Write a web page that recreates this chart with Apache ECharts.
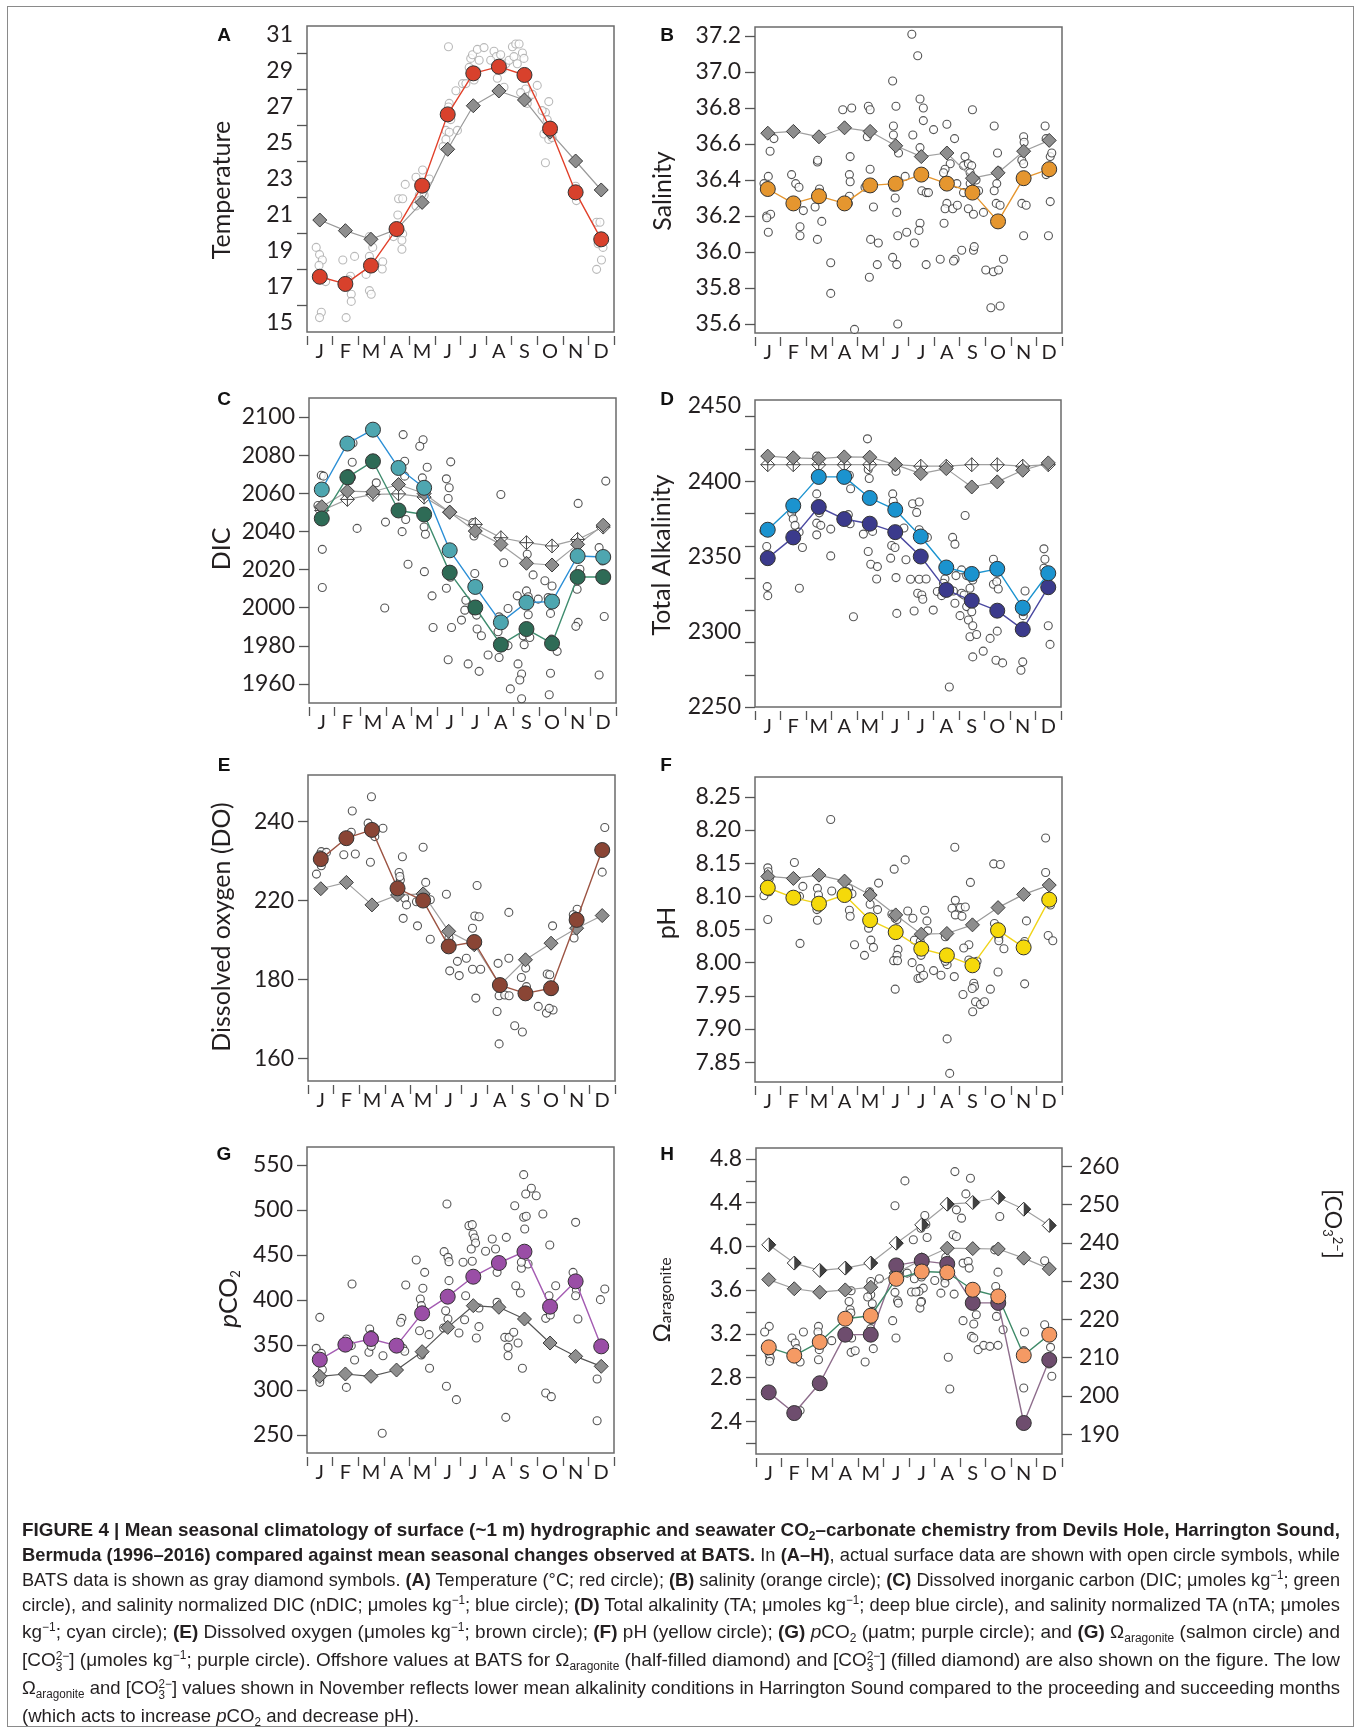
<!DOCTYPE html>
<html><head><meta charset="utf-8">
<script src="https://cdn.jsdelivr.net/npm/echarts@6/dist/echarts.min.js"></script>
<style>
html,body{margin:0;padding:0;background:#fff;}
#chart{position:absolute;left:0;top:0;width:1360px;height:1731px;}
#frame{position:absolute;left:7px;top:6px;width:1347px;height:1721px;border:1.5px solid #8a8a8a;box-sizing:border-box;pointer-events:none;}
.cap{position:absolute;left:22px;white-space:nowrap;font-family:"Liberation Sans Narrow","Liberation Sans",Arial,sans-serif;font-size:19px;color:#231f20;line-height:20px;transform-origin:0 50%;}
.cap sup{font-size:12px;vertical-align:7px;line-height:0;}
.cap sub{font-size:12px;vertical-align:-4px;line-height:0;}
.st{display:inline-block;font-size:12px;line-height:11px;vertical-align:-5px;text-align:left;}
</style></head><body>
<div id="chart"></div>
<div id="frame"></div>
<div id="caption"></div>
<script>
// ---------- categories / ticks ----------
const months = ['J','F','M','A','M','J','J','A','S','O','N','D'];
const monthTicks = [0,1,2,3,4,5,6,7,8,9,10,11,12];
const monthLabelPos = [0.5,1.5,2.5,3.5,4.5,5.5,6.5,7.5,8.5,9.5,10.5,11.5];

const tempLabels = [15,17,19,21,23,25,27,29,31];
const tempTicks = [16,18,20,22,24,26,28,30];
const salTicks = [35.6,35.8,36.0,36.2,36.4,36.6,36.8,37.0,37.2];
const dicTicks = [1960,1980,2000,2020,2040,2060,2080,2100];
const taLabels = [2250,2300,2350,2400,2450];
const taTicks = [2250,2271.4,2292.9,2314.3,2335.7,2357.1,2378.6,2400,2421.4,2442.9];
const doTicks = [180,200,220,240];
const doTickText = ['160','180','220','240'];
const phTicks = [7.85,7.90,7.95,8.00,8.05,8.10,8.15,8.20,8.25];
const pco2Ticks = [250,300,350,400,450,500,550];
const omegaLabels = [2.4,2.8,3.2,3.6,4.0,4.4,4.8];
const omegaTicks = [2.2,2.4,2.6,2.8,3.0,3.2,3.4,3.6,3.8,4.0,4.2,4.4,4.6,4.8];
const co3Ticks = [190,200,210,220,230,240,250,260];

// ---------- A: temperature ----------
const tempMean = [17.57,17.17,18.19,20.22,22.63,26.59,28.87,29.24,28.78,25.80,22.26,19.65];
const tempBats = [20.72,20.13,19.65,20.2,21.7,24.65,27.07,27.89,27.39,25.6,24.0,22.39];
const tempRaw = [[0.36,19.2],[0.49,18.8],[0.6,18.5],[0.47,18.2],[0.73,17.3],[0.56,15.6],[0.49,15.3],
[1.4,18.5],[1.86,18.7],[1.7,17.6],[1.73,16.6],[1.73,16.2],[1.53,15.3],[1.62,17.4],
[2.44,19.8],[2.57,19.2],[2.44,18.7],[2.96,18.4],[2.94,18.0],[2.31,17.7],[2.44,16.8],[2.51,16.6],
[3.84,22.7],[3.58,21.9],[3.74,21.9],[3.55,21.0],[3.74,19.95],[3.71,19.6],[3.71,19.1],[3.38,19.8],
[4.26,23.1],[4.52,23.5],[4.78,23.0],[4.39,22.1],[4.26,21.5],[4.58,22.1],[4.39,21.8],
[5.53,30.35],[5.56,27.2],[5.53,27.0],[5.43,25.7],[5.56,25.6],[5.43,25.2],[5.32,24.8],[5.88,25.7],[5.82,27.9],[5.62,26.3],
[6.08,28.3],[6.21,28.3],[6.34,29.2],[6.4,29.7],[6.47,29.9],[6.66,30.2],[6.92,30.3],[6.53,28.5],[6.62,29.0],[6.73,29.6],
[7.31,30.1],[7.4,29.8],[7.57,29.9],[7.77,29.4],[7.9,29.6],[7.44,28.6],[7.7,28.1],[7.18,29.6],[7.64,29.1],
[8.03,30.35],[8.16,30.5],[8.29,30.5],[8.42,30.0],[8.09,29.8],[8.22,29.4],[8.48,29.7],[8.55,28.0],[8.68,27.6],[8.61,27.2],[8.81,27.7],[9.0,28.2],[8.35,27.8],
[9.45,27.3],[9.32,26.7],[9.39,26.3],[9.26,25.5],[9.45,25.2],[9.58,25.3],[9.32,23.9],[9.19,26.8],
[10.5,22.6],[10.53,21.8],[10.47,22.4],
[11.32,20.6],[11.45,20.6],[11.57,19.2],[11.51,18.5],[11.32,17.98],[11.38,19.4]];

// ---------- B: salinity ----------
const salMean = [36.35,36.27,36.31,36.27,36.37,36.38,36.43,36.38,36.33,36.17,36.41,36.46];
const salBats = [36.66,36.67,36.64,36.69,36.67,36.59,36.53,36.55,36.41,36.44,36.56,36.62];
const salRaw = [[0.74,36.63],[0.59,36.56],[0.52,36.42],[0.35,36.38],[0.46,36.2],[0.61,36.21],[0.52,36.11],[0.46,36.19],
[1.43,36.43],[1.59,36.38],[1.72,36.36],[1.76,36.14],[1.76,36.09],[1.89,36.23],[1.5,36.28],
[2.44,36.5],[2.45,36.51],[2.52,36.35],[2.35,36.25],[2.61,36.17],[2.44,36.07],[2.96,35.94],[2.96,35.77],
[3.43,36.79],[3.78,36.8],[3.72,36.53],[3.69,36.43],[3.72,36.39],[3.69,36.31],[3.65,36.27],[3.89,35.57],
[4.43,36.81],[4.5,36.79],[4.39,36.64],[4.5,36.46],[4.3,36.36],[4.63,36.25],[4.52,36.07],[4.82,36.05],[4.78,35.93],[4.47,35.86],
[5.38,36.95],[5.51,36.81],[5.41,36.7],[5.41,36.65],[5.61,36.55],[5.41,36.36],[5.48,36.3],[5.54,36.22],[5.87,36.42],[5.58,36.09],[5.38,35.97],[5.54,35.93],[5.58,35.6],
[6.13,37.21],[6.36,37.09],[6.45,36.85],[6.58,36.8],[6.58,36.73],[6.17,36.65],[6.45,36.58],[6.52,36.34],[6.69,36.33],[6.78,36.33],[6.45,36.16],[6.41,36.12],[5.93,36.11],[6.23,36.05],[6.69,35.93],[6.98,36.68],
[7.5,36.71],[7.8,36.63],[7.63,36.49],[7.43,36.46],[7.37,36.44],[7.5,36.27],[7.43,36.24],[7.73,36.24],[7.91,36.26],[7.39,36.16],[7.82,35.96],[7.24,35.96],[7.76,35.95],[7.89,36.38],
[8.5,36.79],[8.21,36.53],[8.15,36.48],[8.34,36.49],[8.47,36.48],[8.41,36.44],[8.51,36.4],[8.41,36.38],[8.64,36.4],[8.74,36.34],[8.34,36.24],[8.54,36.21],[8.93,36.22],[8.08,36.01],[8.54,36.01],[8.57,36.03],[8.15,36.33],
[9.35,36.7],[9.48,36.55],[9.52,36.45],[9.45,36.38],[9.35,36.34],[9.43,36.27],[9.58,36.26],[9.02,35.9],[9.32,35.89],[9.52,35.9],[9.71,35.96],[9.22,35.69],[9.58,35.7],
[10.5,36.64],[10.52,36.61],[10.43,36.51],[10.5,36.49],[10.43,36.27],[10.6,36.26],[10.5,36.09],
[11.34,36.7],[11.38,36.63],[11.54,36.53],[11.6,36.55],[11.38,36.43],[11.54,36.28],[11.47,36.09]];

// ---------- C: DIC ----------
const dicMean = [2046.8,2068.4,2076.8,2051.0,2048.9,2018.4,2000.1,1980.6,1988.8,1981.3,2016.1,2016.1];
const ndicMean = [2062.0,2086.1,2093.4,2073.3,2062.9,2030.1,2010.9,1992.3,2002.7,2003.2,2027.1,2026.6];
const dicBats = [2053,2061.1,2060.8,2064.6,2059.9,2050.1,2040.2,2033.2,2023.3,2022.4,2033.2,2043.3];
const ndicBats = [2051,2056.8,2059.4,2059.7,2058.0,2050.1,2043.7,2036.7,2034.1,2032.4,2035.8,2042.3];
const dicRaw = [[0.35,2053.6],[0.52,2051],[0.48,2069.5],[0.57,2069],[0.52,2030.6],[0.52,2010.6],
[1.72,2086.4],[1.69,2076.3],[1.53,2070.4],[1.66,2068.4],[1.59,2066.7],[1.88,2041.6],[1.46,2060.2],
[2.44,2075.4],[2.63,2065.5],[2.99,2044.9],[2.96,1999.8],[2.48,2060],
[3.68,2090.8],[3.74,2076.8],[3.74,2069],[3.78,2046.3],[3.64,2039.9],[3.87,2022.8],
[4.46,2088.1],[4.33,2084.7],[4.43,2068.1],[4.62,2073.7],[4.5,2042.3],[4.55,2038.5],[4.51,2018.9],[4.81,2006.2],[4.85,1989.6],
[5.37,2067.6],[5.48,2062.9],[5.44,2057.3],[5.54,2076.5],[5.37,2010.2],[5.57,1989.6],[5.44,1972.7],[5.53,2016],
[6.41,2044.6],[6.45,2037.6],[6.48,2017.9],[6.13,2003.9],[6.09,1998.7],[5.96,1993.5],[6.55,1996.1],[6.57,1988.8],[6.74,1985.3],[6.22,1970.5],[6.65,1966.6],[6.41,1998.5],
[7.5,2059.4],[7.61,2023.6],[7.78,1999.6],[7.43,1995.2],[7.39,1987.4],[7.78,1980.1],[7.43,1973.9],[7.87,1957.4],[7.0,1975.2],
[8.14,2006.2],[8.53,2028],[8.76,2017.2],[8.5,2008.8],[8.57,2005.7],[8.57,1996.3],[8.37,1985.3],[8.63,1984.4],[8.41,1980.6],[8.17,1970.5],[8.31,1965.2],[8.24,1962.1],[8.31,1952.2],[8.96,2004.5],
[9.22,2014.1],[9.5,2011.4],[9.44,1997],[9.48,1983.5],[9.7,1977.1],[9.44,1965.6],[9.39,1954.3],[9.35,2005.3],
[10.52,2054.7],[10.5,2034.1],[10.59,2020.2],[10.48,2009.7],[10.52,1992.3],[10.43,1990.2],
[11.6,2066.4],[11.34,2031.5],[11.47,2024.5],[11.54,1995.4],[11.34,1964.7],[11.43,2026]];

// ---------- D: total alkalinity ----------
const taMean = [2348.9,2362.7,2382.9,2374.9,2371.8,2366.2,2350.0,2327.8,2320.7,2314.0,2301.6,2329.6];
const ntaMean = [2367.8,2383.8,2402.9,2402.9,2388.9,2381.1,2363.3,2342.7,2338.4,2341.8,2316.0,2338.9];
const taBats = [2416.7,2415.6,2415.0,2416.2,2416.0,2411.1,2405.1,2408.4,2396.2,2399.6,2407.3,2412.2];
const ntaBats = [2411,2411,2411,2411,2411,2411,2410,2410,2411,2411,2410,2411];
const taRaw = [[0.35,2367],[0.46,2356.7],[0.48,2330],[0.5,2324],
[1.44,2378.9],[1.5,2375],[1.57,2370.7],[1.73,2366.2],[1.86,2356],[1.74,2328.9],
[2.42,2416.7],[2.42,2391.6],[2.42,2372.2],[2.58,2370.7],[2.42,2364.4],[2.97,2368.2],[2.97,2350.4],[2.52,2379],
[3.7,2404],[3.75,2395],[3.66,2377.8],[3.73,2371.8],[3.86,2310],
[4.41,2428.2],[4.44,2407.8],[4.48,2401.8],[4.25,2364.9],[4.61,2366.7],[4.44,2353.3],[4.54,2344.9],[4.8,2343.3],[4.77,2335.1],
[5.4,2391.6],[5.42,2386.7],[5.53,2406.7],[5.36,2357.3],[5.49,2356],[5.84,2368.9],[5.32,2348.9],[5.92,2347.8],[5.53,2336],[5.56,2312.2],[5.4,2382.7],
[6.18,2385.1],[6.44,2386.2],[6.34,2379.3],[6.44,2367.8],[6.76,2362.7],[6.1,2334.9],[6.44,2334.9],[6.71,2335.1],[6.38,2325.6],[6.54,2324.4],[6.58,2321.6],[6.24,2313.8],[6.99,2314.4],
[7.75,2362.7],[7.84,2358.2],[7.45,2335.1],[7.39,2332.2],[7.15,2326.7],[7.32,2324],[7.78,2327.1],[7.84,2318.9],[8.1,2325.6],[7.62,2263.3],[7.88,2337.3],
[8.24,2377.3],[8.1,2341.1],[8.3,2337.3],[8.54,2334.4],[8.2,2324.4],[8.3,2316.7],[8.5,2313.3],[8.04,2310.7],[8.37,2307.8],[8.54,2304],[8.43,2296.7],[8.69,2298.2],[8.54,2283.3],[8.95,2287.1],[9.22,2295.6],[8.43,2328.9],
[9.35,2348.2],[9.35,2331.6],[9.48,2333.3],[9.54,2328.4],[9.5,2300.4],[9.45,2281.1],[9.71,2279.3],
[10.59,2327.1],[10.52,2310.7],[10.5,2280],[10.43,2274.4],[10.52,2313.3],
[11.33,2355.1],[11.37,2348.2],[11.33,2342.2],[11.5,2304],[11.57,2291.6],[11.44,2336.7]];

// ---------- E: dissolved oxygen ----------
const doMean = [230.5,235.8,237.9,223.1,220.0,208.4,209.5,198.6,196.5,197.8,215.1,232.8];
const doBats = [223.0,224.6,218.9,221.4,221.7,212.2,208.8,198.6,205.0,209.2,213.0,216.2];
const doRaw = [[0.33,226.7],[0.52,232.4],[0.46,231.6],[0.72,232.2],[0.52,228.8],
[1.73,242.7],[1.69,237.3],[1.4,231.6],[1.85,231.8],
[2.48,246.3],[2.35,239.6],[2.61,236.2],[2.93,238.3],[2.44,229.7],
[3.56,227.1],[3.61,225.2],[3.69,231.1],[3.78,220.6],[3.85,218.9],[3.72,215.5],[3.59,226.1],
[4.5,233.5],[4.6,224.6],[4.78,220.2],[4.24,219.7],[4.28,213.6],[4.78,210.2],
[5.41,221.6],[5.51,210.6],[5.54,202.2],[5.84,204.6],[5.91,201.0],[6.19,205.4],
[6.43,213],[6.61,223.8],[6.52,216.1],[6.69,215.9],[6.43,202.6],[6.75,202.6],[6.56,195.3],
[7.43,204.1],[7.85,205.4],[7.85,217],[7.47,195.9],[7.69,196.1],[7.86,195.9],[7.39,191.9],[7.47,183.7],
[8.34,200.5],[8.51,202.9],[8.54,198.2],[8.08,188.3],[8.38,186.7],
[9.56,213.6],[9.35,201.4],[9.45,201.2],[9.52,197],[9.58,192.3],[9.0,193.2],[9.32,191.5],[9.43,192.7],
[10.52,217.8],[10.37,216.4],[10.4,210.5],[10.47,216],
[11.6,238.5],[11.5,227.2]];

// ---------- F: pH ----------
const phMean = [8.113,8.098,8.089,8.102,8.064,8.046,8.021,8.011,7.996,8.049,8.023,8.095];
const phBats = [8.130,8.127,8.132,8.123,8.102,8.072,8.043,8.044,8.057,8.083,8.103,8.117];
const phRaw = [[0.5,8.143],[0.52,8.137],[0.46,8.13],[0.56,8.127],[0.35,8.101],[0.55,8.107],[0.5,8.065],
[1.54,8.151],[1.87,8.115],[1.74,8.1],[1.76,8.029],
[2.44,8.112],[2.48,8.102],[2.48,8.082],[2.44,8.064],[2.96,8.216],[3.0,8.108],[2.42,8.08],
[3.66,8.112],[3.79,8.104],[3.69,8.079],[3.72,8.07],[3.89,8.027],[3.59,8.107],
[4.48,8.107],[4.5,8.088],[4.83,8.12],[4.79,8.08],[4.44,8.052],[4.53,8.034],[4.63,8.023],[4.28,8.011],
[5.44,8.141],[5.87,8.155],[5.35,8.073],[5.48,8.067],[5.55,8.065],[5.97,8.078],[5.59,8.02],[5.55,8.011],[5.42,8.003],[5.57,8.003],[5.48,7.96],[6.17,8.067],[6.23,8.034],[6.14,8.0],
[6.63,8.079],[6.72,8.063],[6.75,8.048],[6.46,8.032],[6.49,8.011],[6.46,7.991],[6.37,7.976],[6.46,7.977],[6.59,7.981],[6.98,7.988],
[7.44,8.039],[7.83,8.094],[7.7,8.082],[8.03,8.083],[7.83,8.072],[8.09,8.07],[8.22,8.084],[7.81,8.174],[7.38,8.007],[7.51,7.997],[7.27,7.981],[7.79,7.979],[7.51,7.885],[7.61,7.833],[7.44,8.002],
[8.42,8.121],[8.36,8.027],[8.16,8.022],[8.36,8.004],[8.68,8.002],[8.55,7.969],[8.58,7.964],[8.49,7.961],[8.62,7.941],[8.81,7.937],[8.97,7.941],[8.51,7.926],[8.13,7.952],[9.2,7.96],
[9.33,8.149],[9.59,8.148],[9.36,8.059],[9.53,8.038],[9.53,8.033],[9.73,8.021],[9.5,7.986],
[10.54,8.032],[10.51,8.024],[10.61,8.063],[10.54,7.968],
[11.36,8.188],[11.36,8.136],[11.55,8.087],[11.46,8.041],[11.64,8.033]];

// ---------- G: pCO2 ----------
const pco2Mean = [333.7,350.4,356.7,349.3,385.2,403.7,425.9,441.1,453.7,392.6,420.7,348.5];
const pco2Bats = [315.2,317.8,315.2,322.2,342.6,369.6,393.7,391.9,378.9,352.2,337.4,326.3];
const pco2Raw = [[0.5,380.7],[0.36,346.3],[0.56,340.7],[0.6,322.6],[0.5,311.1],[0.5,308.5],[0.47,315.9],
[1.76,417.8],[1.54,356.7],[1.86,333.3],[1.54,302.9],[1.73,349.3],
[2.45,367.8],[2.51,361.5],[2.62,358.5],[2.42,341.9],[2.97,338.1],[2.94,251.9],[2.51,348.5],
[3.86,416.7],[3.71,379.6],[3.66,375.2],[3.75,346.3],[3.82,343],
[4.27,444.4],[4.6,430.7],[4.53,413],[4.43,401.1],[4.47,393.7],[4.4,383.3],[4.4,365.9],[4.77,361.5],[4.79,324.1],[4.47,338.9],
[5.36,453.7],[5.47,506.7],[5.51,447.4],[5.55,442.6],[5.55,421.5],[5.42,388.1],[5.51,378.9],[5.34,368.9],[5.45,304.1],[5.84,289.3],[5.94,363.3],[6.1,441.9],[6.2,404.8],
[6.33,482.6],[6.46,483.7],[6.49,473.3],[6.55,468.9],[6.59,463.3],[6.42,456.7],[6.46,443],[6.72,391.1],[6.72,370.4],[6.62,357.8],[6.16,378],
[6.98,454.1],[7.24,467.8],[7.37,456.7],[7.43,430.7],[7.79,469.6],[7.43,397.4],[7.73,358.5],[7.9,358.5],[7.86,347.4],[7.86,338.1],[7.77,269.6],
[8.12,504.8],[8.47,539.3],[8.77,524.1],[8.55,517.8],[8.96,515.9],[8.47,491.9],[8.57,493],[8.51,478.9],[8.38,435.2],[8.64,440],[8.16,415.9],[8.34,407.8],[8.08,364.1],[8.25,352.2],[8.42,324.1],[8.38,441.9],
[9.22,495.6],[9.49,461.1],[9.46,404.8],[9.72,415.9],[9.33,379.6],[9.51,383.3],[9.33,296.7],[9.55,292.6],
[10.4,430.7],[10.5,486.3],[10.53,411.5],[10.5,404.8],[10.59,378.9],[10.42,419],
[11.64,412.2],[11.47,400.4],[11.34,312.2],[11.34,265.9]];

// ---------- H: Omega aragonite / CO3 ----------
const omegaMean = [3.076,3.0,3.125,3.338,3.365,3.703,3.770,3.761,3.603,3.542,3.003,3.192];
const co3Mean = [200.9,195.5,203.3,216.0,216.0,234.1,235.3,234.5,224.3,224.3,192.9,209.4];
const omegaBats = [4.014,3.847,3.780,3.801,3.847,4.029,4.197,4.386,4.401,4.447,4.340,4.191];
const co3Bats = [230.4,228.0,227.1,227.7,228.4,232.1,235.6,238.6,238.5,238.4,236.0,233.2];
const omegaRaw = [[0.52,3.268],[0.34,3.216],[0.52,3.009],[0.56,2.978],[0.53,2.948],[0.5,3.045],
[1.41,3.161],[1.54,3.116],[1.6,3.064],[1.6,3.003],[1.73,2.942],[1.86,3.216],[1.73,2.497],
[2.45,3.268],[2.43,3.216],[2.45,3.137],[2.48,3.055],[2.45,2.963],[2.97,3.137],
[3.73,3.594],[3.65,3.496],[3.69,3.42],[3.72,3.39],[3.75,3.161],[3.73,3.03],[3.89,3.045],
[4.5,3.679],[4.5,3.557],[4.38,3.536],[4.56,3.475],[4.56,3.405],[4.54,3.329],[4.5,3.247],[4.6,3.064],[4.28,2.942],[4.84,3.703],
[5.45,4.371],[5.84,4.599],[5.51,3.801],[5.62,3.78],[5.93,3.755],[5.45,3.579],[5.55,3.502],[5.58,3.481],[5.36,3.32],[5.49,3.161],[6.17,4.06],[6.21,3.703],[6.1,3.582],
[6.62,4.282],[6.66,4.203],[6.71,4.081],[6.47,4.166],[6.49,3.719],[6.56,3.618],[6.39,3.588],[6.49,3.496],[6.43,3.435],[6.27,3.582],[6.47,3.49],[7.01,3.688],[7.25,3.572],
[7.44,3.898],[7.41,3.709],[7.41,3.664],[7.77,3.563],[7.8,4.684],[7.86,4.334],[8.06,4.258],[7.73,4.106],[7.86,4.09],[7.54,2.985],[7.6,2.695],[7.44,3.853],
[8.41,4.623],[8.23,4.48],[8.12,3.847],[8.32,3.862],[8.36,3.801],[8.51,3.481],[8.12,3.32],[8.54,3.289],[8.64,3.374],[8.45,3.176],[8.54,3.161],[8.71,3.055],[8.93,3.094],[9.17,3.085],[8.47,3.466],
[9.49,3.094],[9.36,3.968],[9.49,3.764],[9.56,4.273],[9.4,3.633],[9.43,3.359],[9.69,3.237],
[10.53,3.216],[10.5,3.046],[10.5,2.704],
[11.32,3.283],[11.55,3.076],[11.49,2.924],[11.6,2.811],[11.32,3.868]];

// ---------- build chart ----------
const FONT = 'Lato, "Noto Sans", sans-serif';
const TXT = '#231f20';
const grids = [], xAxes = [], yAxes = [], series = [], graphics = [];
const atMonth = arr => arr.map((v, i) => [i + 0.5, v]);
const CROSS = 'path://M10,0L20,10L10,20L0,10Z M10,0L10,20 M0,10L20,10';
const HALF = 'path://M0,0L10,10L0,20Z';

function yAxis(gi, y, pos) {
  return {
    gridIndex: gi, type: 'value', position: pos, min: y.min, max: y.max,
    axisLine: { show: false },
    axisTick: { show: true, customValues: y.ticks, length: 10, lineStyle: { color: '#555', width: 1.3 } },
    axisLabel: { customValues: y.labels, formatter: y.fmt, fontFamily: FONT, fontSize: 23, color: TXT, margin: pos === 'right' ? 17 : 14 },
    splitLine: { show: false }
  };
}

function addPanel(p) {
  const gi = grids.length;
  grids.push({ left: p.box[0], top: p.box[1], width: p.box[2], height: p.box[3], show: true,
    borderColor: '#6b6b6b', borderWidth: 1.5, backgroundColor: '#fff' });
  xAxes.push({
    gridIndex: gi, type: 'value', min: 0, max: 12, offset: 4,
    axisLine: { show: false },
    axisTick: { show: true, customValues: monthTicks, length: 9, lineStyle: { color: '#555', width: 1.3 } },
    axisLabel: { customValues: monthLabelPos, formatter: v => months[Math.floor(v)], fontFamily: FONT, fontSize: 20, color: TXT, margin: 6 },
    splitLine: { show: false }
  });
  const yi = yAxes.length;
  yAxes.push(yAxis(gi, p.y, 'left'));
  let yi2 = yi;
  if (p.y2) { yi2 = yAxes.length; yAxes.push(yAxis(gi, p.y2, 'right')); }
  series.push({ type: 'scatter', xAxisIndex: gi, yAxisIndex: yi, data: p.raw, symbol: 'circle', symbolSize: 8,
    itemStyle: { color: '#fff', borderColor: p.rawColor || '#2a2a2a', borderWidth: 1.1 }, z: 2, silent: true });
  (p.extra || []).forEach(s => series.push(Object.assign({ xAxisIndex: gi, yAxisIndex: s.right ? yi2 : yi, silent: true }, s)));
  graphics.push({ type: 'text', x: p.letter[0], y: p.letter[1], style: { text: p.letter[2], font: 'bold 19px "Liberation Sans", Arial, sans-serif',
    fill: '#111', align: 'center', verticalAlign: 'middle', textAlign: 'center', textVerticalAlign: 'middle' } });
  graphics.push(Object.assign({ type: 'text', x: p.name[0], y: p.name[1], rotation: Math.PI / 2 },
    { style: Object.assign({ fill: TXT, fontFamily: FONT, fontSize: 25, align: 'center', verticalAlign: 'middle', textAlign: 'center', textVerticalAlign: 'middle' }, p.nameStyle) }));
}

function batsLine(data, lineColor, opts) {
  return Object.assign({ type: 'line', data: atMonth(data), symbol: 'diamond', symbolSize: 14,
    lineStyle: { color: lineColor || '#9a9a9a', width: 1.2 },
    itemStyle: { color: '#8e8e8e', borderColor: '#3c3c3c', borderWidth: 1 }, z: 3 }, opts || {});
}
function meanLine(data, fill, line, opts) {
  return Object.assign({ type: 'line', data: atMonth(data), symbol: 'circle', symbolSize: 15,
    lineStyle: { color: line, width: 1.4 },
    itemStyle: { color: fill, borderColor: '#333', borderWidth: 1 }, z: 5 }, opts || {});
}

// A
addPanel({ box: [307, 26, 307, 306], y: { min: 14.5, max: 31.5, labels: tempLabels, ticks: tempTicks, fmt: v => String(Math.round(v)) },
  raw: tempRaw, rawColor: '#a8a8a8', letter: [224, 36, 'A'], name: [222, 190], nameStyle: { text: 'Temperature' },
  extra: [batsLine(tempBats, '#9a9a9a'), meanLine(tempMean, '#d8412c', '#e2412b')] });
// B
addPanel({ box: [755, 27, 307, 306], y: { min: 35.55, max: 37.25, labels: salTicks, ticks: salTicks, fmt: v => v.toFixed(1) },
  raw: salRaw, letter: [667, 36, 'B'], name: [663, 191], nameStyle: { text: 'Salinity' },
  extra: [batsLine(salBats, '#a0a0a0'), meanLine(salMean, '#e5962f', '#e5962f')] });
// C
addPanel({ box: [309, 398, 307, 305], y: { min: 1950, max: 2110, labels: dicTicks, ticks: dicTicks, fmt: v => String(Math.round(v)) },
  raw: dicRaw, letter: [224, 400, 'C'], name: [222, 549], nameStyle: { text: 'DIC' },
  extra: [batsLine(ndicBats, '#a0a0a0', { symbol: CROSS, symbolSize: 14, itemStyle: { color: '#fff', borderColor: '#444', borderWidth: 1 } }),
          batsLine(dicBats, '#a0a0a0'),
          meanLine(dicMean, '#2e6b56', '#3f8c6e'), meanLine(ndicMean, '#4ea6b0', '#2b8fd6')] });
// D
addPanel({ box: [755, 400, 306, 307], y: { min: 2250, max: 2454, labels: taLabels, ticks: taTicks, fmt: v => String(Math.round(v)) },
  raw: taRaw, letter: [667, 400, 'D'], name: [662, 555], nameStyle: { text: 'Total Alkalinity' },
  extra: [batsLine(ntaBats, '#a0a0a0', { symbol: CROSS, symbolSize: 14, itemStyle: { color: '#fff', borderColor: '#444', borderWidth: 1 } }),
          batsLine(taBats, '#a0a0a0'),
          meanLine(taMean, '#3b3a8c', '#4a48a0'), meanLine(ntaMean, '#1b93cf', '#1b93cf')] });
// E
addPanel({ box: [308, 775, 307, 306], y: { min: 174.3, max: 251.8, labels: doTicks, ticks: doTicks, fmt: v => doTickText[doTicks.indexOf(Math.round(v))] },
  raw: doRaw, letter: [224, 766, 'E'], name: [222, 927], nameStyle: { text: 'Dissolved oxygen (DO)' },
  extra: [batsLine(doBats, '#a0a0a0'), meanLine(doMean, '#8a4535', '#9c5443')] });
// F
addPanel({ box: [755, 777, 307, 305], y: { min: 7.82, max: 8.28, labels: phTicks, ticks: phTicks, fmt: v => v.toFixed(2) },
  raw: phRaw, letter: [666, 766, 'F'], name: [667, 923], nameStyle: { text: 'pH' },
  extra: [batsLine(phBats, '#9a9a9a'), meanLine(phMean, '#f5d90a', '#f0d41a')] });
// G
addPanel({ box: [307, 1147, 307, 306], y: { min: 230, max: 570, labels: pco2Ticks, ticks: pco2Ticks, fmt: v => String(Math.round(v)) },
  raw: pco2Raw, letter: [224, 1155, 'G'], name: [229, 1299],
  nameStyle: { text: '{i|p}CO{s|2}', rich: { i: { fontStyle: 'italic', fontSize: 26, fontFamily: FONT, fill: TXT }, s: { fontSize: 13, fontFamily: FONT, verticalAlign: 'bottom', fill: TXT } } },
  extra: [batsLine(pco2Bats, '#555'), meanLine(pco2Mean, '#9a4ea6', '#a45cb2')] });
// H
addPanel({ box: [756, 1148, 306, 306],
  y: { min: 2.1, max: 4.9, labels: omegaLabels, ticks: omegaTicks, fmt: v => v.toFixed(1) },
  y2: { min: 184.8, max: 264.8, labels: co3Ticks, ticks: co3Ticks, fmt: v => String(Math.round(v)) },
  raw: omegaRaw, letter: [667, 1155, 'H'], name: [662, 1300],
  nameStyle: { text: '{o|Ω}{s|aragonite}', rich: { o: { fontSize: 24, fontFamily: FONT, fill: TXT }, s: { fontSize: 16, fontFamily: FONT, verticalAlign: 'bottom', fill: TXT } } },
  extra: [batsLine(omegaBats, '#a0a0a0', { symbol: 'diamond', symbolSize: 14, itemStyle: { color: '#fff', borderColor: '#333', borderWidth: 1 } }),
          { type: 'scatter', data: atMonth(omegaBats), symbol: HALF, symbolSize: [7, 14], symbolOffset: [3.5, 0], itemStyle: { color: '#111' }, z: 3 },
          batsLine(co3Bats, '#a0a0a0', { right: true }),
          meanLine(co3Mean, '#6e4d6e', '#8e6d8c', { right: true }),
          meanLine(omegaMean, '#f59a64', '#3e8a68')] });
graphics.push({ type: 'text', x: 1332, y: 1224, rotation: -Math.PI / 2,
  style: { text: '[CO{s|3}{u|2−}]', fill: TXT, fontFamily: FONT, fontSize: 23, align: 'center', verticalAlign: 'middle', textAlign: 'center', textVerticalAlign: 'middle',
    rich: { s: { fontSize: 13, fontFamily: FONT, verticalAlign: 'bottom', fill: TXT }, u: { fontSize: 13, fontFamily: FONT, verticalAlign: 'top', fill: TXT } } } });

const chart = echarts.init(document.getElementById('chart'), null, { renderer: 'canvas' });
chart.setOption({ animation: false, backgroundColor: '#fff', grid: grids, xAxis: xAxes, yAxis: yAxes, series: series, graphic: graphics });

// ---------- caption ----------
const CO3 = '[CO<span class="st">2−<br>3</span>]';
const captionLines = [
  '<b>FIGURE 4 | Mean seasonal climatology of surface (~1 m) hydrographic and seawater CO<sub>2</sub>–carbonate chemistry from Devils Hole, Harrington Sound,</b>',
  '<b>Bermuda (1996–2016) compared against mean seasonal changes observed at BATS.</b> In <b>(A–H)</b>, actual surface data are shown with open circle symbols, while',
  'BATS data is shown as gray diamond symbols. <b>(A)</b> Temperature (°C; red circle); <b>(B)</b> salinity (orange circle); <b>(C)</b> Dissolved inorganic carbon (DIC; μmoles kg<sup>−1</sup>; green',
  'circle), and salinity normalized DIC (nDIC; μmoles kg<sup>−1</sup>; blue circle); <b>(D)</b> Total alkalinity (TA; μmoles kg<sup>−1</sup>; deep blue circle), and salinity normalized TA (nTA; μmoles',
  'kg<sup>−1</sup>; cyan circle); <b>(E)</b> Dissolved oxygen (μmoles kg<sup>−1</sup>; brown circle); <b>(F)</b> pH (yellow circle); <b>(G)</b> <i>p</i>CO<sub>2</sub> (μatm; purple circle); and <b>(G)</b> Ω<sub>aragonite</sub> (salmon circle) and',
  CO3 + ' (μmoles kg<sup>−1</sup>; purple circle). Offshore values at BATS for Ω<sub>aragonite</sub> (half-filled diamond) and ' + CO3 + ' (filled diamond) are also shown on the figure. The low',
  'Ω<sub>aragonite</sub> and ' + CO3 + ' values shown in November reflects lower mean alkalinity conditions in Harrington Sound compared to the proceeding and succeeding months',
  '(which acts to increase <i>p</i>CO<sub>2</sub> and decrease pH).'
];
const captionCenters = [1530, 1555, 1580, 1605, 1632, 1660, 1688, 1716];
const CAP_W = 1318;
const cap = document.getElementById('caption');
const els = captionLines.map((h, i) => {
  const d = document.createElement('div');
  d.className = 'cap'; d.innerHTML = h; d.style.top = (captionCenters[i] - 10) + 'px';
  cap.appendChild(d); return d;
});
const scales = [];
els.forEach((d, i) => {
  if (i === els.length - 1) return;
  const w = d.getBoundingClientRect().width;
  if (w > CAP_W) { const s = CAP_W / w; scales.push(s); d.style.transform = 'scaleX(' + s + ')'; }
  else {
    const n = (d.textContent.match(/ /g) || []).length;
    d.style.wordSpacing = ((CAP_W - w) / Math.max(n, 1)) + 'px';
    scales.push(1);
  }
});
const avg = scales.reduce((a, b) => a + b, 0) / scales.length;
els[els.length - 1].style.transform = 'scaleX(' + Math.min(1, avg) + ')';
</script>
</body></html>
